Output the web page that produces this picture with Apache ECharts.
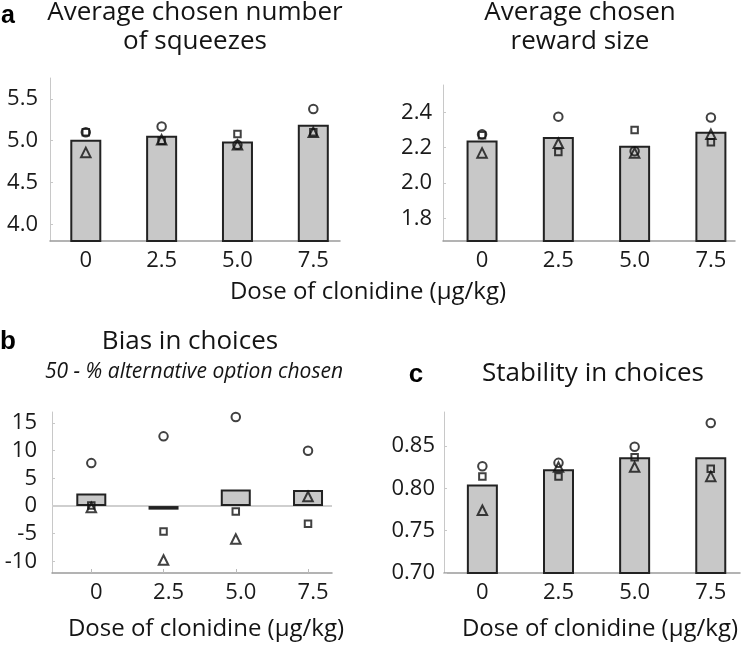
<!DOCTYPE html>
<html>
<head>
<meta charset="utf-8">
<script src="https://cdn.jsdelivr.net/npm/echarts@6/dist/echarts.min.js"></script>
<style>
html,body{margin:0;padding:0;background:#fff;}
#c{width:742px;height:649px;}
</style>
</head>
<body>
<div id="c"></div>
<script>
// ---- data ----
var doses = [0, 2.5, 5, 7.5];
var doseLabels = ['0', '2.5', '5.0', '7.5'];

var squeezeMean     = [5.01, 5.06, 4.99, 5.19];
var squeezeCircle   = [5.10, 5.17, 4.95, 5.38];
var squeezeSquare   = [5.10, 5.00, 5.08, 5.10];
var squeezeTriangle = [4.86, 5.01, 4.95, 5.10];
var squeezeTicks    = [4.0, 4.5, 5.0, 5.5];

var rewardMean     = [2.24, 2.26, 2.21, 2.29];
var rewardCircle   = [2.275, 2.375, 2.18, 2.37];
var rewardSquare   = [2.27, 2.175, 2.30, 2.23];
var rewardTriangle = [2.17, 2.225, 2.17, 2.275];
var rewardTicks    = [1.8, 2.0, 2.2, 2.4];

var biasMean     = [2.27, -0.65, 3.0, 2.9];
var biasCircle   = [7.76, 12.6, 16.1, 10.0];
var biasSquare   = [0.1, -4.6, -0.97, -3.2];
var biasTriangle = [-0.25, -9.75, -5.95, 1.74];
var biasTicks    = [-10, -5, 0, 5, 10, 15];

var stabMean     = [0.8044, 0.8224, 0.8365, 0.8365];
var stabCircle   = [0.826, 0.830, 0.849, 0.877];
var stabSquare   = [0.814, 0.814, 0.8365, 0.823];
var stabTriangle = [0.774, 0.825, 0.825, 0.814];
var stabTicks    = [0.70, 0.75, 0.80, 0.85];

// ---- helpers ----
var FONT = 'Open Sans';
function pairs(vals){ return doses.map(function(d,i){ return [d, vals[i]]; }); }
function xAxisCfg(g, min, max, padLeft){
  return {
    type:'value', gridIndex:g, min:min, max:max,
    splitLine:{show:false},
    axisLine:{show:true, onZero:false, lineStyle:{color:'#9a9a9a', width:1.5}},
    axisTick:{show:true, inside:true, length:4, customValues:doses, lineStyle:{color:'#bbb'}},
    axisLabel:{customValues:doses, fontFamily:FONT, fontSize:22, color:'#1a1a1a', margin:9,
      padding:[0,0,0,padLeft||0],
      formatter:function(v){ var i = doses.indexOf(v); return i>=0 ? doseLabels[i] : ''; }}
  };
}
function yAxisCfg(g, min, max, ticks, dec, margin){
  return {
    type:'value', gridIndex:g, min:min, max:max,
    splitLine:{show:false},
    axisLine:{show:true, onZero:false, lineStyle:{color:'#c8c8c8', width:1}},
    axisTick:{show:true, inside:true, length:3, customValues:ticks, lineStyle:{color:'#c8c8c8'}},
    axisLabel:{customValues:ticks, fontFamily:FONT, fontSize:22, color:'#1a1a1a', margin:margin,
      formatter:function(v){ return v.toFixed(dec); }}
  };
}
function barSeries(g, vals, w, extra){
  var s = {
    type:'bar', xAxisIndex:g, yAxisIndex:g, data:pairs(vals), barWidth:w,
    itemStyle:{color:'#c8c8c8', borderColor:'#222', borderWidth:2},
    silent:true, z:2, animation:false
  };
  if (extra) for (var k in extra) s[k] = extra[k];
  return s;
}
function dotSeries(g, vals, symbol, size){
  return {
    type:'scatter', xAxisIndex:g, yAxisIndex:g, data:pairs(vals),
    symbol:symbol, symbolSize:size,
    itemStyle:{color:'rgba(255,255,255,0)', borderColor:'#111', borderWidth:2},
    silent:true, z:5, animation:false
  };
}
function txt(text, x, y, size, opts){
  opts = opts || {};
  return {type:'text', x:x, y:y, silent:true, style:{
    text:text, fill:opts.color||'#141414', align:'center', verticalAlign:'middle',
    font:(opts.style||'normal')+' '+(opts.weight||'normal')+' '+size+'px '+(opts.family||('"'+FONT+'"'))
  }};
}

var chart = echarts.init(document.getElementById('c'), null, {renderer:'canvas'});
var option = {
  animation:false,
  backgroundColor:'#fff',
  grid:[
    {left:50,  top:78,  width:290, height:163},
    {left:443, top:85,  width:292, height:156},
    {left:52,  top:412, width:280, height:161},
    {left:444, top:412, width:296, height:161}
  ],
  xAxis:[
    xAxisCfg(0, -1.18, 8.38, 0),
    xAxisCfg(1, -1.28, 8.29, 0),
    xAxisCfg(2, -1.36, 8.33, 10),
    xAxisCfg(3, -1.26, 8.46, 0)
  ],
  yAxis:[
    yAxisCfg(0, 3.8, 5.75, squeezeTicks, 1, 12),
    yAxisCfg(1, 1.672, 2.554, rewardTicks, 1, 11),
    yAxisCfg(2, -12.1, 17.0, biasTicks, 0, 15),
    yAxisCfg(3, 0.70, 0.89, stabTicks, 2, 9)
  ],
  series:[
    barSeries(0, squeezeMean, 31),
    dotSeries(0, squeezeCircle, 'circle', 8.5),
    dotSeries(0, squeezeSquare, 'rect', 6.5),
    dotSeries(0, squeezeTriangle, 'triangle', 9.5),

    barSeries(1, rewardMean, 31),
    dotSeries(1, rewardCircle, 'circle', 8.5),
    dotSeries(1, rewardSquare, 'rect', 6.5),
    dotSeries(1, rewardTriangle, 'triangle', 9.5),

    barSeries(2, biasMean, 30, {markLine:{silent:true, symbol:['none','none'], label:{show:false},
      lineStyle:{color:'#cfcfcf', width:2, type:'solid'}, data:[{yAxis:0}], z:1, animation:false}}),
    dotSeries(2, biasCircle, 'circle', 8.5),
    dotSeries(2, biasSquare, 'rect', 6.5),
    dotSeries(2, biasTriangle, 'triangle', 9.5),

    barSeries(3, stabMean, 31),
    dotSeries(3, stabCircle, 'circle', 8.5),
    dotSeries(3, stabSquare, 'rect', 6.5),
    dotSeries(3, stabTriangle, 'triangle', 9.5)
  ],
  graphic:[
    txt('a', 8, 16, 25, {weight:'bold', family:'"Liberation Sans", Arial, sans-serif', color:'#000'}),
    txt('Average chosen number', 195, 13, 26),
    txt('of squeezes', 195, 42, 26),
    txt('Average chosen', 580, 13, 26),
    txt('reward size', 580, 42, 26),
    txt('Dose of clonidine (\u00b5g/kg)', 368, 292, 24),

    txt('b', 8, 342, 26, {weight:'bold', family:'"Liberation Sans", Arial, sans-serif', color:'#000'}),
    txt('Bias in choices', 190, 342, 26),
    txt('50 - % alternative option chosen', 194, 372, 21, {style:'italic'}),
    txt('Dose of clonidine (\u00b5g/kg)', 206, 629, 24),

    txt('c', 416, 375, 26, {weight:'bold', family:'"Liberation Sans", Arial, sans-serif', color:'#000'}),
    txt('Stability in choices', 593, 374, 26),
    txt('Dose of clonidine (\u00b5g/kg)', 600, 629, 24)
  ]
};
chart.setOption(option);
</script>
</body>
</html>
